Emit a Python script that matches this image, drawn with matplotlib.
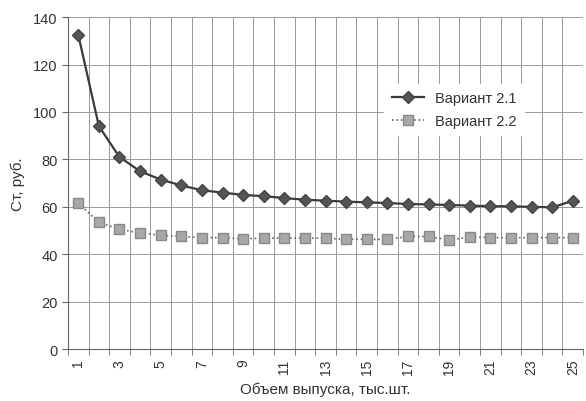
import numpy as np
import matplotlib.pyplot as plt
from matplotlib.ticker import FixedLocator

plt.rcParams['font.family'] = ['Liberation Sans', 'DejaVu Sans']

# data
volume = list(range(1, 26))
variant_21 = [132.5, 94, 81, 75, 71.5, 69, 67, 66, 65, 64.5, 63.7, 63, 62.6, 62.2,
              61.9, 61.6, 61.2, 61, 60.8, 60.5, 60.3, 60.2, 60, 59.8, 62.5]
variant_22 = [61.5, 53.5, 50.5, 49, 48, 47.5, 47, 47, 46.5, 46.8, 46.8, 46.8, 46.8,
              46.3, 46.3, 46.3, 47.5, 47.5, 46, 47.3, 47, 47, 47, 47, 47]
xticks_shown = list(range(1, 26, 2))
yticks = [0, 20, 40, 60, 80, 100, 120, 140]

fig = plt.figure(figsize=(5.86, 4.02), dpi=100)
ax = fig.add_axes([0.116, 0.129, 0.879, 0.826])

ax.plot(volume, variant_21, '-', color='#3a3a3a', lw=1.6, marker='D', ms=6.5,
        mfc='#555555', mec='#444444', label='Вариант 2.1', zorder=3)
ax.plot(volume, variant_22, ':', color='#666666', lw=1.2, marker='s', ms=7,
        mfc='#a8a8a8', mec='#888888', label='Вариант 2.2', zorder=3)

ax.set_xlim(0.5, 25.5)
ax.set_ylim(0, 140)
ax.set_yticks(yticks)
ax.set_xticks(xticks_shown)
ax.set_xticklabels([str(v) for v in xticks_shown], rotation=90)
ax.xaxis.set_minor_locator(FixedLocator(np.arange(0.5, 26, 1)))
ax.tick_params(axis='x', which='major', length=0, labelsize=10, colors='#333333', pad=7)
ax.tick_params(axis='x', which='minor', length=4, color='#666666')
ax.tick_params(axis='y', length=4, labelsize=10.5, colors='#333333', color='#666666')

ax.grid(axis='x', which='minor', color='#999999', lw=0.7)
ax.grid(axis='y', which='major', color='#999999', lw=0.7)
for side in ['top', 'right']:
    ax.spines[side].set_visible(False)
for side in ['left', 'bottom']:
    ax.spines[side].set_color('#666666')

ax.set_xlabel('Объем выпуска, тыс.шт.', fontsize=11, color='#333333', labelpad=5)
ax.set_ylabel('Ст, руб.', fontsize=11, color='#333333', labelpad=6)

leg = ax.legend(loc='upper left', bbox_to_anchor=(0.60, 0.82), frameon=True,
                fontsize=10.5, handlelength=2.2, borderpad=0.5, labelspacing=0.6,
                fancybox=False, framealpha=1)
leg.get_frame().set_edgecolor('white')
for t in leg.get_texts():
    t.set_color('#333333')

fig.savefig('out.png', dpi=100)
